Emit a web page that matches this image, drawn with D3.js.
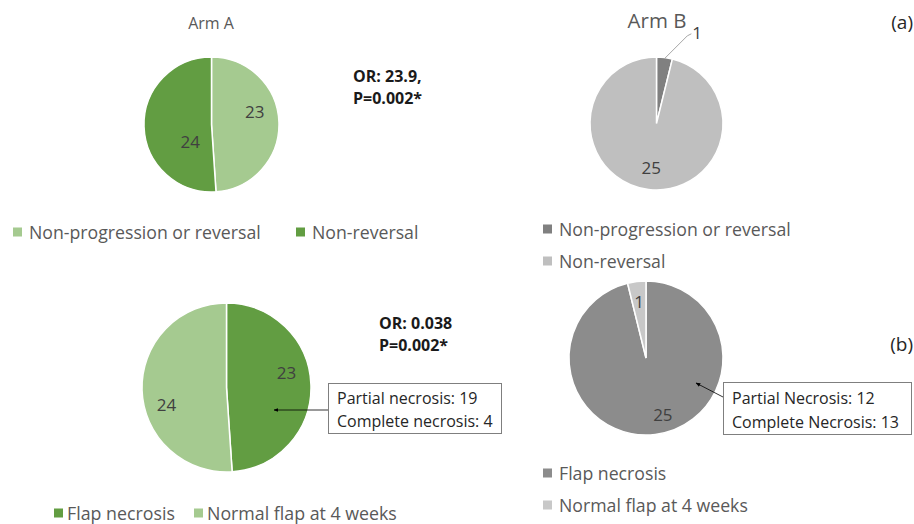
<!DOCTYPE html>
<html><head><meta charset="utf-8">
<script src="https://cdn.jsdelivr.net/npm/d3@7"></script>
<style>
html,body{margin:0;padding:0;background:#fff;}
text{font-family:"Open Sans","Noto Sans",sans-serif;}
</style></head>
<body>
<svg id="c" width="914" height="524"></svg>
<script>
// ---- data ----
const topCategories = ["Non-progression or reversal", "Non-reversal"];
const topArmA = [23, 24];
const topArmB = [1, 25];
const botCategories = ["Flap necrosis", "Normal flap at 4 weeks"];
const botArmA = [23, 24];
const botArmB = [25, 1];
const statsTop = ["OR: 23.9,", "P=0.002*"];
const statsBot = ["OR: 0.038", "P=0.002*"];
const noteA = ["Partial necrosis: 19", "Complete necrosis: 4"];
const noteB = ["Partial Necrosis: 12", "Complete Necrosis: 13"];

const svg = d3.select("#c");
const green = ["#a5ca90", "#629d42"];
const grayTop = ["#808080", "#bfbfbf"];
const grayBot = ["#8c8c8c", "#c8c8c8"];
const labelColor = "#404040";
const legendColor = "#595959";

function drawPie(opts){
  const g = svg.append("g").attr("transform", `translate(${opts.cx},${opts.cy})`);
  const color = d3.scaleOrdinal().domain(opts.cats).range(opts.colors);
  const pie = d3.pie().sort(null).value(d => d.v);
  const data = pie(opts.values.map((v,i)=>({v, c: opts.cats[i]})));
  const arc = d3.arc().innerRadius(0).outerRadius(opts.r);
  g.selectAll("path").data(data).join("path")
    .attr("d", arc).attr("fill", d => color(d.data.c))
    .attr("stroke", "#fff").attr("stroke-width", 1.5);
  const lab = d3.arc().innerRadius(opts.r*opts.lf).outerRadius(opts.r*opts.lf);
  data.forEach((d,i) => {
    let [x,y] = lab.centroid(d);
    if (opts.outside && opts.outside[i]) {
      const o = opts.outside[i];
      const edge = d3.arc().innerRadius(opts.r*0.98).outerRadius(opts.r*0.98).centroid(d);
      const lx = edge[0] + o[0], ly = edge[1] + o[1];
      g.append("polyline").attr("points", `${edge[0]},${edge[1]} ${lx-2},${ly+4} ${lx+2},${ly+2}`)
        .attr("fill","none").attr("stroke","#a6a6a6").attr("stroke-width",1);
      g.append("text").attr("x", lx+3).attr("y", ly+1).attr("text-anchor","start")
        .attr("dominant-baseline","central").attr("font-size", opts.fs).attr("fill", labelColor)
        .text(d.data.v);
      return;
    }
    if (opts.shift && opts.shift[i]) { x += opts.shift[i][0]; y += opts.shift[i][1]; }
    g.append("text").attr("x", x).attr("y", y).attr("text-anchor","middle")
      .attr("dominant-baseline","central").attr("font-size", opts.fs).attr("fill", labelColor)
      .text(d.data.v);
  });
  return {g, data, arc, color};
}

function legend(items, colors, x, y, dx, dy, fs, tOff){
  items.forEach((t,i) => {
    const lx = x + (dx ? dx[i] : 0), ly = y + (dy ? dy[i] : 0);
    svg.append("rect").attr("x", lx).attr("y", ly-4.5).attr("width", 9).attr("height", 9).attr("fill", colors[i]);
    svg.append("text").attr("x", lx+tOff).attr("y", ly).attr("dominant-baseline","central")
      .attr("font-size", fs).attr("fill", legendColor).text(t);
  });
}

function textLines(lines, x, y, lh, fs, weight, color){
  lines.forEach((t,i)=> svg.append("text").attr("x",x).attr("y",y+i*lh)
    .attr("dominant-baseline","central").attr("font-size",fs).attr("font-weight",weight)
    .attr("fill",color).text(t));
}

// ---- (a) top row ----
svg.append("text").attr("x",211).attr("y",23).attr("text-anchor","middle").attr("dominant-baseline","central")
  .attr("font-size",16).attr("fill",legendColor).text("Arm A");
drawPie({cx:211.5, cy:124.5, r:67.5, values: topArmA, cats: topCategories, colors: green, lf:0.64, fs:17,
  shift:[[0,-12],[22,16]]});
textLines(statsTop, 353, 76, 22, 16, "bold", "#1a1a1a");
legend(topCategories, green, 13, 232, [0, 283], null, 17.7, 16);

svg.append("text").attr("x",657).attr("y",20).attr("text-anchor","middle").attr("dominant-baseline","central")
  .attr("font-size",20.5).attr("fill",legendColor).text("Arm B");
drawPie({cx:656.5, cy:123.5, r:66.5, values: topArmB, cats: topCategories, colors: grayTop, lf:0.67, fs:17,
  outside:[[25,-27], null]});
svg.append("text").attr("x",913).attr("y",22).attr("text-anchor","end").attr("dominant-baseline","central")
  .attr("font-size",19).attr("fill","#262626").text("(a)");
legend(topCategories, grayTop, 543, 229, null, [0, 32], 17.7, 16);

// ---- (b) bottom row ----
drawPie({cx:226.5, cy:387.5, r:84.5, values: botArmA, cats: botCategories, colors: [green[1], green[0]], lf:0.71, fs:17,
  shift:[[0,-13],[0,15]]});
textLines(statsBot, 379, 323, 22, 16, "bold", "#1a1a1a");
// annotation A
svg.append("rect").attr("x",328.5).attr("y",383.5).attr("width",173).attr("height",50)
  .attr("fill","#fff").attr("stroke","#7f7f7f").attr("stroke-width",1);
textLines(noteA, 337, 398, 23, 16, "normal", "#262626");
svg.append("defs").append("marker").attr("id","arr").attr("viewBox","0 0 10 10").attr("refX",9).attr("refY",5)
  .attr("markerWidth",6).attr("markerHeight",6).attr("orient","auto")
  .append("path").attr("d","M0,1 L10,5 L0,9 Z").attr("fill","#000");
svg.append("line").attr("x1",328).attr("y1",410).attr("x2",274).attr("y2",410)
  .attr("stroke","#000").attr("stroke-width",0.8).attr("marker-end","url(#arr)");
legend(botCategories, [green[1], green[0]], 54, 513, [0, 140], null, 17.8, 13);

drawPie({cx:646, cy:358, r:77, values: botArmB, cats: botCategories, colors: grayBot, lf:0.74, fs:17,
  shift:[[10,0],[0,0]]});
svg.append("rect").attr("x",723.5).attr("y",382.5).attr("width",188).attr("height",52)
  .attr("fill","#fff").attr("stroke","#7f7f7f").attr("stroke-width",1);
textLines(noteB, 732, 398, 24, 16, "normal", "#262626");
svg.append("line").attr("x1",723).attr("y1",397).attr("x2",696).attr("y2",383)
  .attr("stroke","#000").attr("stroke-width",0.8).attr("marker-end","url(#arr)");
svg.append("text").attr("x",913).attr("y",344).attr("text-anchor","end").attr("dominant-baseline","central")
  .attr("font-size",19).attr("fill","#262626").text("(b)");
legend(botCategories, grayBot, 543, 473, null, [0, 32], 17.7, 16);
</script>
</body></html>
